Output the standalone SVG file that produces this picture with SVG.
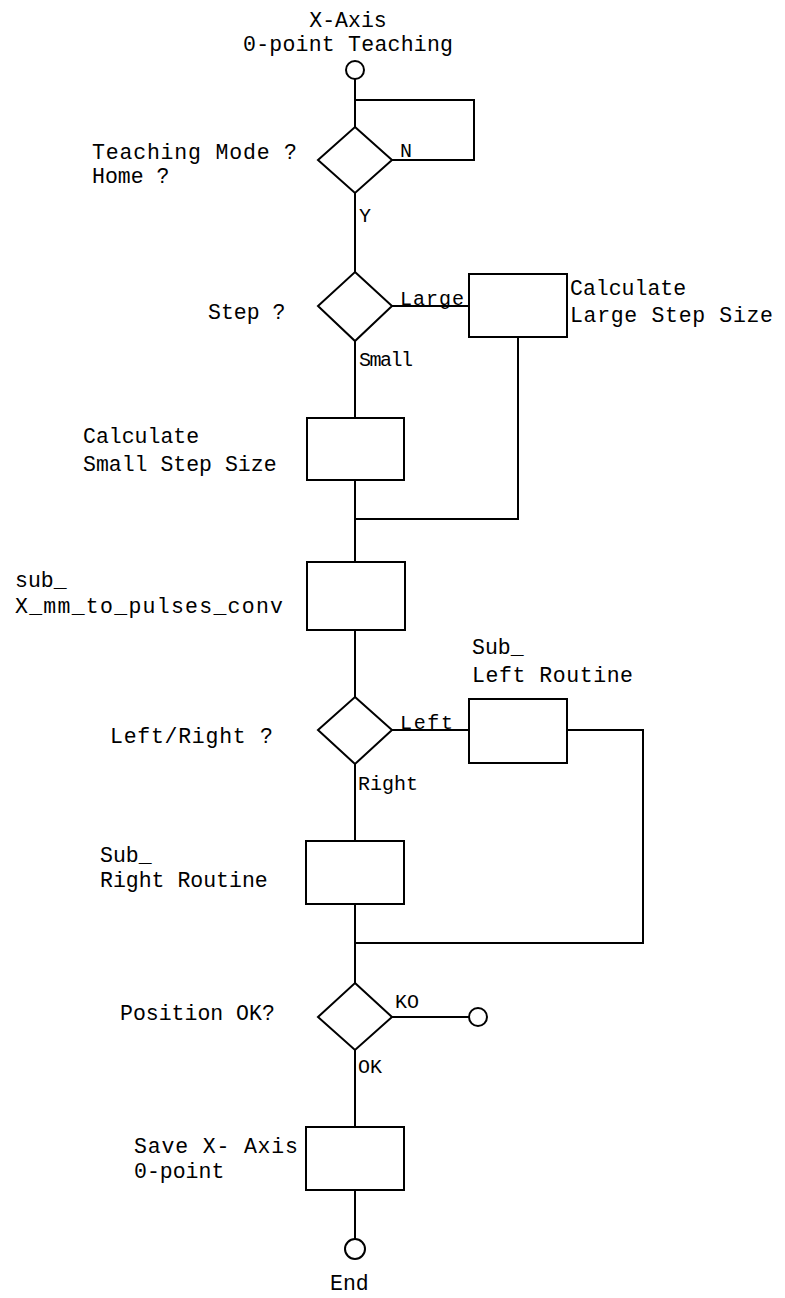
<svg xmlns="http://www.w3.org/2000/svg" width="785" height="1298" viewBox="0 0 785 1298">
<style>
.s{fill:#fff;stroke:#000;stroke-width:2}
.c{fill:none;stroke:#000;stroke-width:2}
text{font-family:"Liberation Mono","DejaVu Sans Mono",monospace;font-size:21.5px;fill:#000}
.l{font-size:20px}
</style>
<rect width="785" height="1298" fill="#fff"/>
<g id="connectors">
<path class="c" d="M355 79V127"/>
<path class="c" d="M355 100H474V160H392"/>
<path class="c" d="M355 193V272"/>
<path class="c" d="M392 306H469"/>
<path class="c" d="M355 341V418"/>
<path class="c" d="M355 480V562"/>
<path class="c" d="M518 337V519H355"/>
<path class="c" d="M355 630V697"/>
<path class="c" d="M392 730H469"/>
<path class="c" d="M567 730H643V943H355"/>
<path class="c" d="M355 764V841"/>
<path class="c" d="M355 904V983"/>
<path class="c" d="M392 1017H469"/>
<path class="c" d="M355 1050V1127"/>
<path class="c" d="M355 1190V1239"/>
<text class="l" x="400" y="157">N</text>
<text class="l" x="359" y="222">Y</text>
<text class="l" x="400" y="305" textLength="64">Large</text>
<text class="l" x="359" y="366" textLength="54">Small</text>
<text class="l" x="400" y="729" textLength="53">Left</text>
<text class="l" x="358" y="790">Right</text>
<text class="l" x="395" y="1008">KO</text>
<text class="l" x="358" y="1073">OK</text>
</g>
<g id="start">
<circle class="s" cx="355" cy="70" r="9"/>
<text x="348" y="27" text-anchor="middle">X-Axis</text>
<text x="348" y="51" text-anchor="middle" textLength="210">0-point Teaching</text>
</g>
<g id="teaching-mode">
<polygon class="s" points="355,127 392,160 355,193 318,160"/>
<text x="92" y="159" textLength="205">Teaching Mode ?</text>
<text x="92" y="183">Home ?</text>
</g>
<g id="step">
<polygon class="s" points="355,272 392,306 355,341 318,306"/>
<text x="208" y="319">Step ?</text>
</g>
<g id="large-step">
<rect class="s" x="469" y="274" width="98" height="63"/>
<text x="570" y="295">Calculate</text>
<text x="570" y="322" textLength="203">Large Step Size</text>
</g>
<g id="small-step">
<rect class="s" x="307" y="418" width="97" height="62"/>
<text x="83" y="443">Calculate</text>
<text x="83" y="471">Small Step Size</text>
</g>
<g id="mm-to-pulses">
<rect class="s" x="307" y="562" width="98" height="68"/>
<text x="15" y="587">sub_</text>
<text x="15" y="613" textLength="268">X_mm_to_pulses_conv</text>
</g>
<g id="left-right">
<polygon class="s" points="355,697 392,730 355,764 318,730"/>
<text x="110" y="743" textLength="163">Left/Right ?</text>
</g>
<g id="left-routine">
<rect class="s" x="469" y="699" width="98" height="64"/>
<text x="472" y="654">Sub_</text>
<text x="472" y="682" textLength="161">Left Routine</text>
</g>
<g id="right-routine">
<rect class="s" x="306" y="841" width="98" height="63"/>
<text x="100" y="862">Sub_</text>
<text x="100" y="887">Right Routine</text>
</g>
<g id="position-ok">
<polygon class="s" points="355,983 392,1017 355,1050 318,1017"/>
<text x="120" y="1020">Position OK?</text>
</g>
<g id="ko-end">
<circle class="s" cx="478" cy="1017" r="9"/>
</g>
<g id="save-zero">
<rect class="s" x="306" y="1127" width="98" height="63"/>
<text x="134" y="1153" textLength="164">Save X- Axis</text>
<text x="134" y="1178">0-point</text>
</g>
<g id="end">
<circle class="s" cx="355" cy="1249" r="10"/>
<text x="330" y="1290">End</text>
</g>
</svg>
